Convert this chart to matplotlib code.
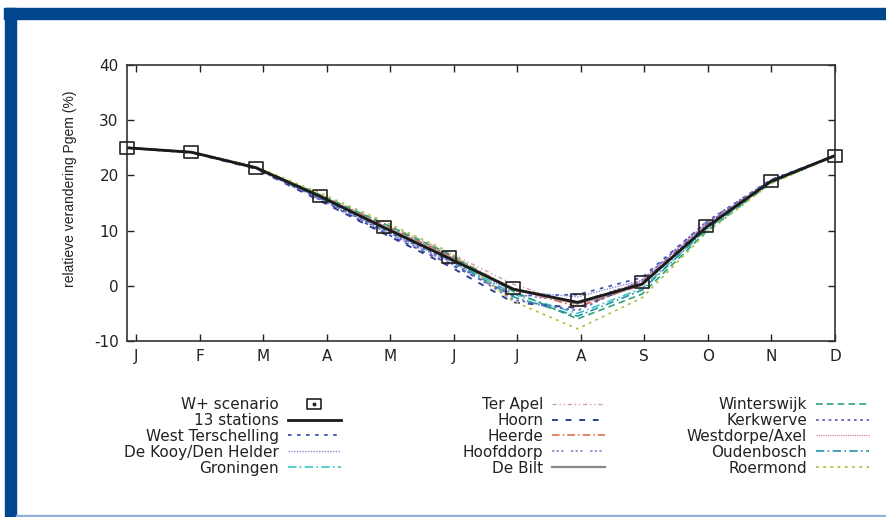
import numpy as np
import matplotlib
matplotlib.use("Agg")
import matplotlib.pyplot as plt
from matplotlib.patches import Rectangle
from matplotlib.lines import Line2D
from matplotlib.path import Path

plt.rcParams["font.family"] = ["DejaVu Sans"]
plt.rcParams["axes.unicode_minus"] = False

months = ["J", "F", "M", "A", "M", "J", "J", "A", "S", "O", "N", "D"]

scenario_w_plus = [25.0, 24.2, 21.4, 16.2, 10.6, 5.2, -0.4, -2.6, 0.6, 10.8, 18.9, 23.6]
all_13 = [25.0, 24.2, 21.4, 16.2, 10.5, 5.0, -0.6, -3.0, 0.3, 10.6, 18.9, 23.6]

west_terschelling = [25.0, 24.2, 21.3, 15.6, 9.6, 4.0, -1.8, -1.6, 1.5, 11.5, 19.2, 23.6]
de_kooy = [25.0, 24.2, 21.4, 15.8, 10.0, 4.5, -1.0, -2.0, 1.0, 11.2, 19.0, 23.6]
groningen = [25.0, 24.2, 21.3, 16.0, 10.4, 5.0, -1.5, -5.0, -0.5, 10.2, 18.7, 23.5]
ter_apel = [25.0, 24.3, 21.5, 16.5, 11.3, 6.0, 0.3, -3.5, 0.0, 10.3, 18.8, 23.5]
hoorn = [25.0, 24.1, 21.2, 15.4, 9.4, 3.6, -3.0, -4.0, 0.5, 11.0, 19.0, 23.6]
heerde = [25.0, 24.2, 21.5, 16.4, 11.0, 5.6, -0.5, -3.8, 0.2, 10.6, 18.8, 23.5]
hoofddorp = [25.0, 24.2, 21.3, 15.7, 9.8, 4.2, -1.5, -3.0, 0.8, 11.0, 19.0, 23.6]
de_bilt = [25.0, 24.2, 21.4, 16.2, 10.7, 5.3, -0.6, -3.2, 0.2, 10.7, 18.9, 23.6]
winterswijk = [25.0, 24.2, 21.5, 16.5, 11.2, 5.8, -1.0, -6.0, -1.5, 9.8, 18.6, 23.5]
kerkwerve = [25.0, 24.2, 21.3, 15.8, 10.0, 4.6, -2.5, -4.5, 1.0, 11.6, 19.1, 23.6]
westdorpe = [25.0, 24.2, 21.4, 16.3, 10.8, 5.4, -0.8, -3.3, 0.8, 11.3, 19.0, 23.6]
oudenbosch = [25.0, 24.2, 21.4, 16.0, 10.3, 4.8, -2.0, -5.5, -0.8, 10.2, 18.8, 23.5]
roermond = [25.0, 24.3, 21.6, 16.8, 11.6, 6.2, -2.8, -7.8, -2.2, 9.6, 18.5, 23.5]

# (label, values, colour, dash pattern, width)
stations = [
    ("West Terschelling", west_terschelling, "#3a55b5", (0, (2, 3)), 1.3),
    ("De Kooy/Den Helder", de_kooy, "#8a8ad8", (0, (1, 1)), 1.0),
    ("Groningen", groningen, "#3cc4c4", (0, (5, 2, 1, 2)), 1.2),
    ("Ter Apel", ter_apel, "#c8a0b4", (0, (3, 2, 1, 2, 1, 2)), 1.0),
    ("Hoorn", hoorn, "#2f3f8a", (0, (3, 4)), 1.4),
    ("Heerde", heerde, "#e0603c", (0, (5, 2, 1, 2)), 1.1),
    ("Hoofddorp", hoofddorp, "#8c70c8", (0, (1.5, 1.5, 1.5, 1.5, 1.5, 5)), 1.1),
    ("De Bilt", de_bilt, "#8a8a8a", "-", 1.6),
    ("Winterswijk", winterswijk, "#2fa276", (0, (4, 2.5)), 1.2),
    ("Kerkwerve", kerkwerve, "#6464c4", (0, (1.5, 2)), 1.3),
    ("Westdorpe/Axel", westdorpe, "#d8809c", (0, (1, 0.8)), 0.9),
    ("Oudenbosch", oudenbosch, "#2496a6", (0, (5, 2, 1, 2)), 1.2),
    ("Roermond", roermond, "#b4c240", (0, (1.5, 2.5)), 1.3),
]

x = np.arange(len(months))

# the source picture is stretched sideways, so the squares are a bit wide
box = Path([(-1.2, -1), (1.2, -1), (1.2, 1), (-1.2, 1), (-1.2, -1)],
           [Path.MOVETO, Path.LINETO, Path.LINETO, Path.LINETO, Path.CLOSEPOLY])

fig = plt.figure(figsize=(8.87, 5.17), dpi=100)
ax = fig.add_axes([127 / 887, 1 - 341 / 517, (835 - 127) / 887, (341 - 65) / 517])

handles = {}
for label, vals, col, ls, lw in stations:
    (h,) = ax.plot(x, vals, color=col, linestyle=ls, linewidth=lw)
    handles[label] = h

(h13,) = ax.plot(x, all_13, color="#1a1a1a", linewidth=2.0)
ax.plot(x, scenario_w_plus, linestyle="none", marker=box, markersize=10.5,
        markerfacecolor="none", markeredgecolor="#222222", markeredgewidth=1.2,
        clip_on=False, zorder=5)

ax.set_xlim(0, 11)
ax.set_ylim(-10, 40)
ax.set_xticks(np.linspace(0.14, 11, 12))
ax.set_xticklabels(months)
ax.set_yticks([-10, 0, 10, 20, 30, 40])
ax.tick_params(direction="in", top=True, right=True, length=5, width=1.0,
               labelsize=11, pad=6, colors="#222222")
for sp in ax.spines.values():
    sp.set_linewidth(1.2)
    sp.set_color("#333333")

fig.text(70 / 887, 1 - 189 / 517, "relatieve verandering Pgem (%)", rotation=90,
         ha="center", va="center", fontsize=10, color="#222222",
         family="Liberation Sans")

# legend: three blocks, label left of handle
sq = Line2D([], [], linestyle="none", marker=box, markersize=9.5, markerfacecolor="none",
            markeredgecolor="#222222", markeredgewidth=1.2)
dot = Line2D([], [], linestyle="none", marker="o", markersize=1.8, color="#222222")
names = [s[0] for s in stations]
col1 = [((sq, dot), "W+ scenario"), (h13, "13 stations")] + \
       [(handles[n], n) for n in names[0:3]]
col2 = [(handles[n], n) for n in names[3:8]]
col3 = [(handles[n], n) for n in names[8:13]]

for items, xr in [(col1, 341), (col2, 605), (col3, 869)]:
    leg = fig.legend([i[0] for i in items], [i[1] for i in items], loc="upper right",
                     bbox_to_anchor=(xr / 887, 1 - 397 / 517), frameon=False,
                     markerfirst=False, fontsize=11, handlelength=3.5, handletextpad=0.55,
                     labelspacing=0.06, borderpad=0, borderaxespad=0)
    for t in leg.get_texts():
        t.set_color("#222222")

# blue frame
blue = "#00468f"
fig.patches.append(Rectangle((4 / 887, 1 - 19 / 517), 1, 11 / 517, transform=fig.transFigure,
                             color=blue, zorder=10))
fig.patches.append(Rectangle((5 / 887, 0), 11 / 887, 1 - 8 / 517, transform=fig.transFigure,
                             color=blue, zorder=10))
fig.patches.append(Rectangle((16 / 887, 0), 1, 2 / 517, transform=fig.transFigure,
                             color="#8fb0dc", zorder=10))

fig.savefig("out.png", dpi=100)
